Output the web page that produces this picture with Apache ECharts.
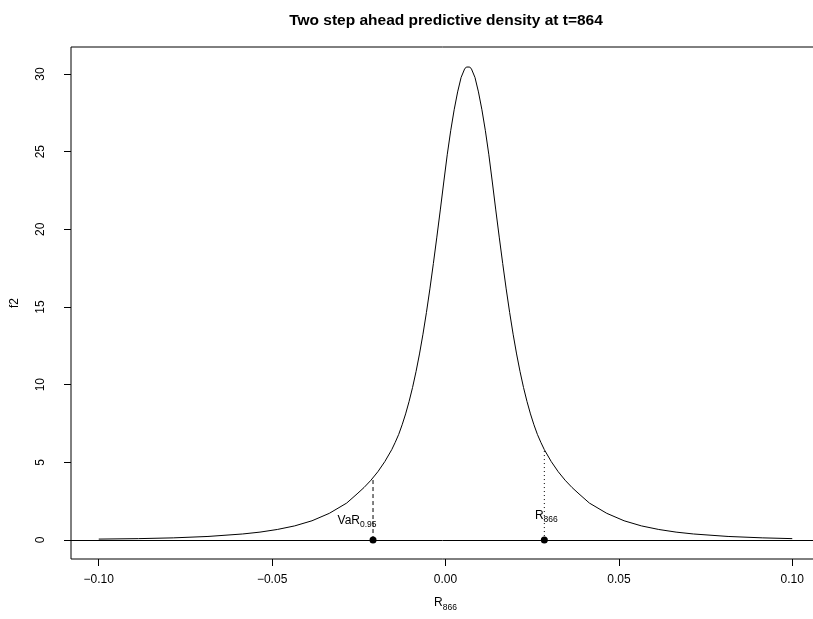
<!DOCTYPE html>
<html>
<head>
<meta charset="utf-8">
<script src="https://cdn.jsdelivr.net/npm/echarts@6/dist/echarts.min.js"></script>
<style>
  html, body { margin: 0; padding: 0; background: #fff; }
  #chart { width: 813px; height: 619px; }
</style>
</head>
<body>
<div id="chart"></div>
<script>
// predictive density f2
const densX = [
  -0.1000, -0.0885, -0.0785, -0.0685, -0.0585, -0.0535, -0.0485, -0.0435, -0.0385, -0.0335,
  -0.0285, -0.0255, -0.0235, -0.0215, -0.0195, -0.0175, -0.0155, -0.0145, -0.0135, -0.0125,
  -0.0115, -0.0105, -0.0095, -0.0085, -0.0075, -0.0065, -0.0055, -0.0045, -0.0035, -0.0025,
  -0.0015, -0.0005, 0.0005, 0.0015, 0.0025, 0.0035, 0.0045, 0.0055, 0.0060, 0.0065, 0.0070,
  0.0075, 0.0085, 0.0095, 0.0105, 0.0115, 0.0125, 0.0135, 0.0145, 0.0155, 0.0165,
  0.0175, 0.0185, 0.0195, 0.0205, 0.0215, 0.0225, 0.0235, 0.0245, 0.0255, 0.0265,
  0.0275, 0.0285, 0.0305, 0.0325, 0.0345, 0.0365, 0.0385, 0.0415, 0.0465, 0.0515,
  0.0565, 0.0615, 0.0665, 0.0715, 0.0815, 0.0915, 0.1000
];
const densF = [
  0.06, 0.09, 0.14, 0.23, 0.39, 0.51, 0.68, 0.91, 1.24, 1.72,
  2.38, 2.97, 3.38, 3.85, 4.40, 5.05, 5.82, 6.29, 6.80, 7.42,
  8.12, 8.92, 9.82, 10.84, 11.98, 13.25, 14.65, 16.17, 17.80, 19.50,
  21.25, 23.05, 24.80, 26.35, 27.70, 28.85, 29.78, 30.32, 30.45, 30.50, 30.45,
  30.32, 29.78, 28.85, 27.70, 26.35, 24.80, 23.05, 21.25, 19.50, 17.80,
  16.17, 14.65, 13.25, 11.98, 10.84, 9.82, 8.92, 8.12, 7.42, 6.80,
  6.29, 5.82, 5.05, 4.40, 3.85, 3.38, 2.97, 2.38, 1.72, 1.24,
  0.91, 0.68, 0.51, 0.39, 0.23, 0.14, 0.09
];
const xTicks = [-0.10, -0.05, 0.00, 0.05, 0.10];
const yTicks = [0, 5, 10, 15, 20, 25, 30];
const varPoint = [-0.0209, 3.91];   // VaR 0.95 and density there
const retPoint = [0.0285, 5.85];    // realised R866 and density there

const font = 'Liberation Sans, Arial, Helvetica, sans-serif';
const chart = echarts.init(document.getElementById('chart'));

const curve = densX.map((x, i) => [x, densF[i]]);

const option = {
  animation: false,
  backgroundColor: '#fff',
  textStyle: { fontFamily: font, color: '#000' },
  title: {
    text: 'Two step ahead predictive density at t=864',
    left: 441,
    top: 8,
    textAlign: 'center',
    textStyle: { fontFamily: font, fontWeight: 'bold', fontSize: 15.5, color: '#000' },
  },
  grid: {
    left: 71,
    top: 47,
    width: 749,
    height: 512,
    outerBoundsMode: 'none',
    show: true,
    borderColor: '#000',
    borderWidth: 1,
    backgroundColor: 'transparent',
  },
  xAxis: {
    type: 'value',
    min: -0.108,
    max: 0.108,
    splitLine: { show: false },
    axisLine: { show: false, onZero: false },
    axisTick: { show: true, length: 7, customValues: xTicks, lineStyle: { color: '#000' } },
    axisLabel: {
      customValues: xTicks,
      formatter: (v) => v.toFixed(2).replace('-', '\u2212'),
      margin: 15,
      fontSize: 12,
      fontFamily: font,
      color: '#000',
    },
    name: '{r|R}{s|866}',
    nameLocation: 'middle',
    nameGap: 38,
    nameTextStyle: {
      rich: {
        r: { fontSize: 12, fontFamily: font, color: '#000', lineHeight: 13, verticalAlign: 'top' },
        s: { fontSize: 8.5, fontFamily: font, color: '#000', lineHeight: 21 },
      },
    },
  },
  yAxis: {
    type: 'value',
    min: -1.2208,
    max: 31.74,
    splitLine: { show: false },
    axisLine: { show: false, onZero: false },
    axisTick: { show: true, length: 7, customValues: yTicks, lineStyle: { color: '#000' } },
    axisLabel: {
      customValues: yTicks,
      rotate: 90,
      margin: 24,
      fontSize: 12,
      fontFamily: font,
      color: '#000',
    },
    name: 'f2',
    nameLocation: 'middle',
    nameRotate: 90,
    nameGap: 50,
    nameTextStyle: { fontSize: 12, fontFamily: font, color: '#000' },
  },
  series: [
    {
      name: 'f2',
      type: 'line',
      data: curve,
      showSymbol: false,
      symbol: 'none',
      lineStyle: { color: '#000', width: 1 },
      z: 3,
      markLine: {
        silent: true,
        symbol: ['none', 'none'],
        label: { show: false },
        lineStyle: { color: '#000', width: 1, type: 'solid' },
        data: [{ yAxis: 0 }],
      },
    },
    {
      name: 'var-line',
      type: 'line',
      data: [[varPoint[0], 0], varPoint],
      symbol: 'none',
      lineStyle: { color: '#000', width: 1, type: [4, 3] },
    },
    {
      name: 'ret-line',
      type: 'line',
      data: [[retPoint[0], 0], retPoint],
      symbol: 'none',
      lineStyle: { color: '#000', width: 1, type: [1, 3] },
    },
    {
      name: 'points',
      type: 'scatter',
      symbol: 'circle',
      symbolSize: 7,
      itemStyle: { color: '#000', opacity: 1 },
      z: 5,
      label: {
        show: true,
        position: 'inside',
        align: 'center',
        verticalAlign: 'middle',
        color: '#000',
        opacity: 1,
        textBorderWidth: 0,
        textBorderColor: 'transparent',
        rich: {
          m: { fontSize: 12, fontFamily: font, color: '#000', lineHeight: 13, verticalAlign: 'top', textBorderWidth: 0 },
          s: { fontSize: 8.5, fontFamily: font, color: '#000', lineHeight: 20, textBorderWidth: 0 },
        },
      },
      data: [
        { value: [varPoint[0], 0], label: { formatter: '{m|VaR}{s|0.95}', offset: [-16, -15.5] } },
        { value: [retPoint[0], 0], label: { formatter: '{m|R}{s|866}', offset: [2, -20.5] } },
      ],
    },
  ],
};

chart.setOption(option);
</script>
</body>
</html>
